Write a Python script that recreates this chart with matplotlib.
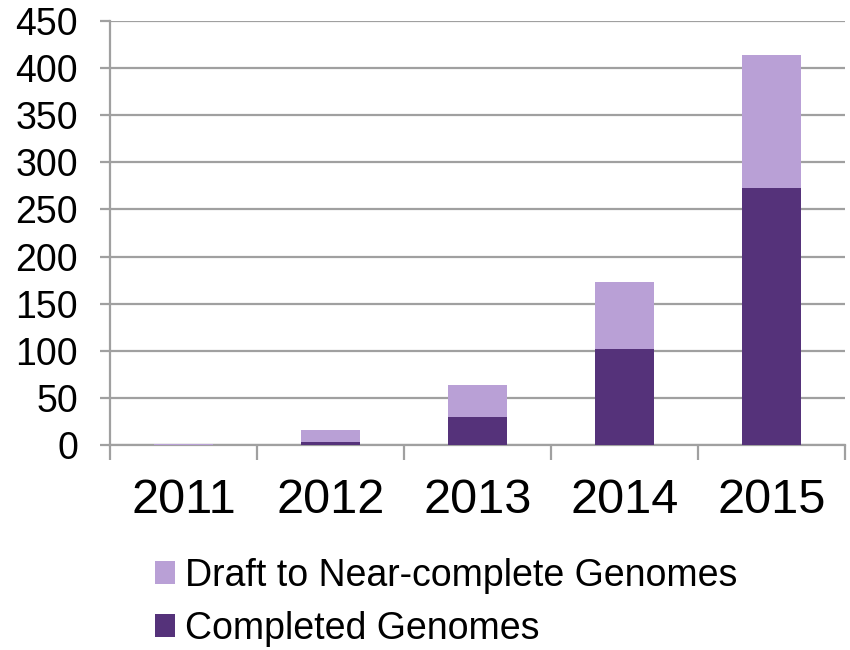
import matplotlib.pyplot as plt
from matplotlib.patches import Patch
import numpy as np

plt.rcParams['font.family'] = ['Liberation Sans', 'DejaVu Sans']

years = ['2011', '2012', '2013', '2014', '2015']
completed = [0, 3, 30, 102, 273]
draft = [1, 13, 34, 71, 141]

dark = '#55327a'
light = '#b9a0d6'
grid_grey = '#a0a0a0'

fig = plt.figure(figsize=(8.5, 6.5), dpi=100)
ax = fig.add_axes([0.1294, 0.3154, 0.8646, 0.6523])

x = np.arange(len(years))
ax.bar(x, completed, width=0.4, color=dark, zorder=3)
ax.bar(x, draft, width=0.4, bottom=completed, color=light, zorder=3)

ax.set_xlim(-0.5, len(years) - 0.5)
ax.set_ylim(0, 450)
ax.set_yticks(range(0, 451, 50))
ax.yaxis.grid(True, color=grid_grey, linewidth=1.6, zorder=0)

# category labels at centres, tick marks at the boundaries
ax.set_xticks(x)
ax.set_xticklabels(years, fontsize=35)
ax.set_xticks(np.arange(-0.5, len(years)), minor=True)
ax.tick_params(axis='x', which='major', length=0, pad=24)
ax.tick_params(axis='x', which='minor', length=11, width=1.6,
               color=grid_grey, direction='out')
ax.tick_params(axis='y', length=7, width=1.6, color=grid_grey,
               labelsize=27, pad=16)

for side in ['top', 'right']:
    ax.spines[side].set_visible(False)
for side in ['left', 'bottom']:
    ax.spines[side].set_color(grid_grey)
    ax.spines[side].set_linewidth(1.6)

handles = [Patch(facecolor=light, label='Draft to Near-complete Genomes'),
           Patch(facecolor=dark, label='Completed Genomes')]
fig.legend(handles=handles, loc='upper left', bbox_to_anchor=(0.182, 0.142),
           frameon=False, fontsize=27, handlelength=0.55, handleheight=0.55,
           handletextpad=0.27, labelspacing=0.45, borderaxespad=0,
           borderpad=0)

fig.savefig('out.png', dpi=100)
